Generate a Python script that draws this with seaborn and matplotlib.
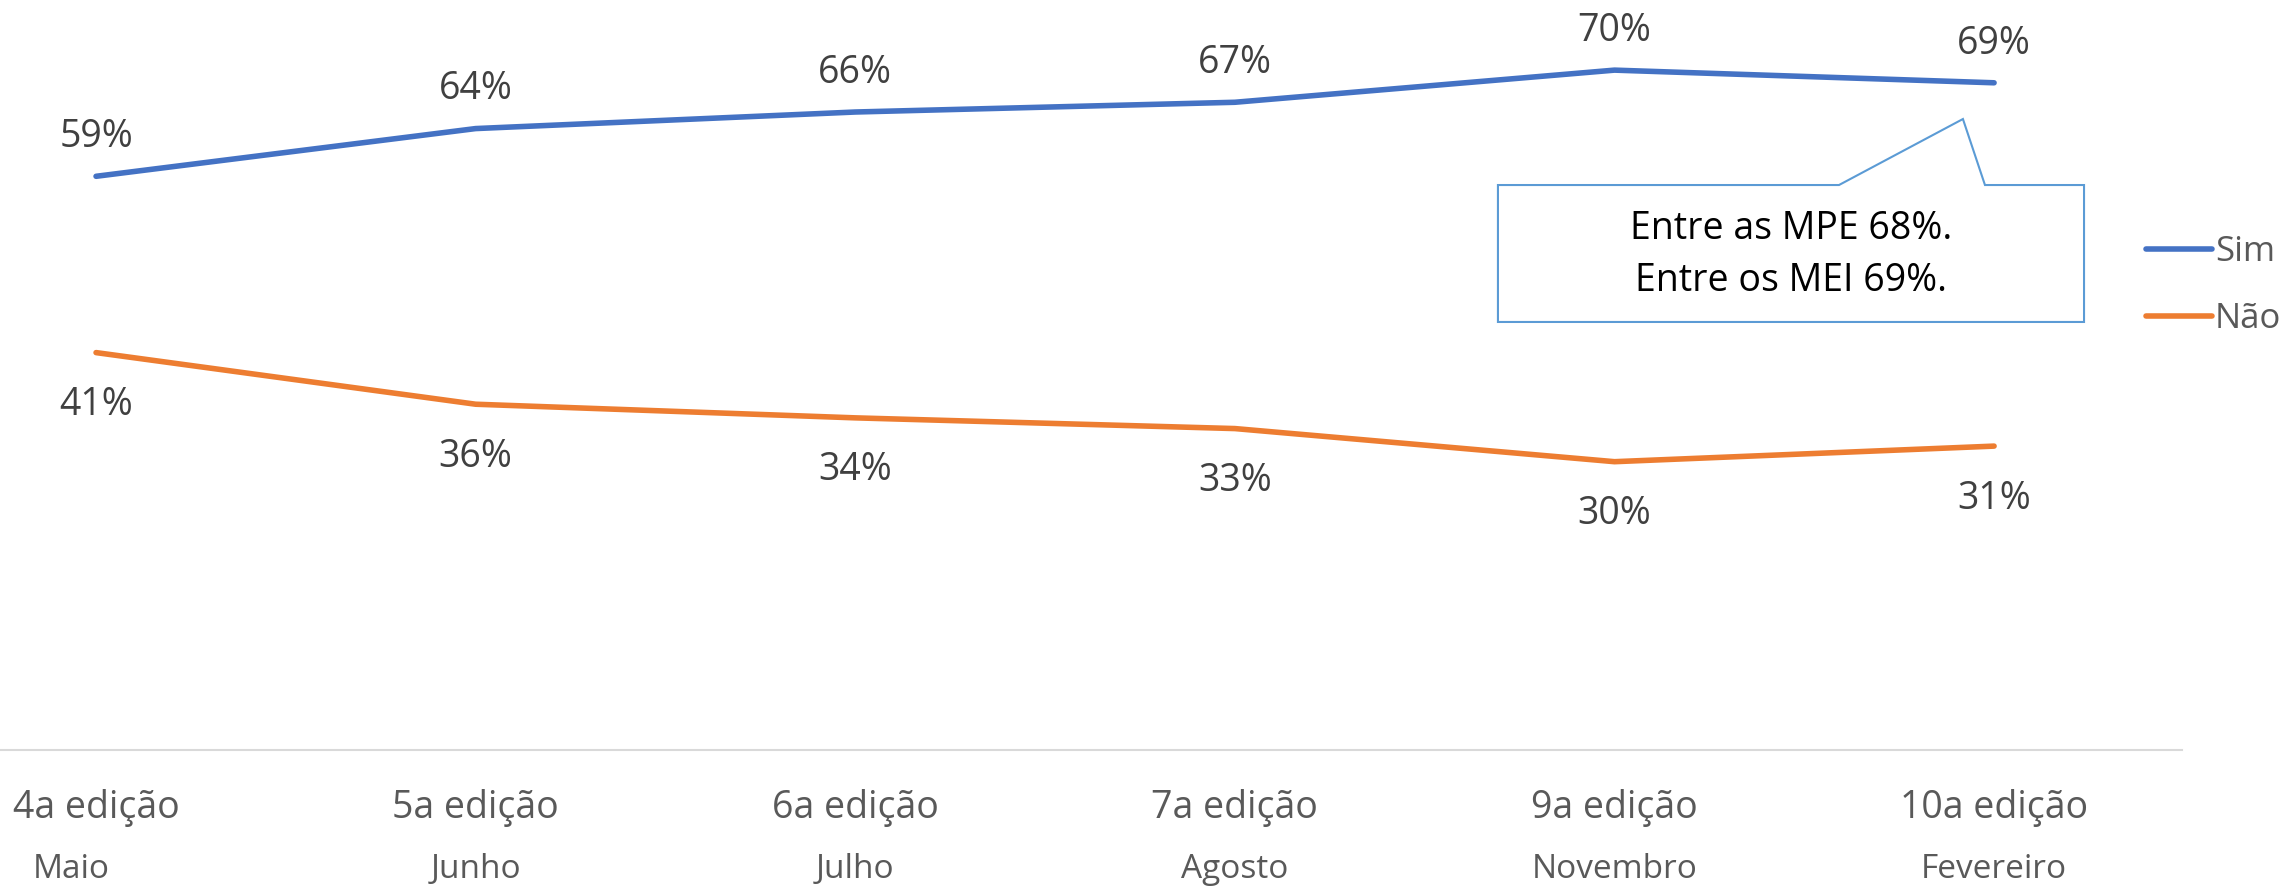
import numpy as np
import pandas as pd
import matplotlib.pyplot as plt
from matplotlib.patches import Polygon
import seaborn as sns

editions = ['4a edição', '5a edição', '6a edição', '7a edição', '9a edição', '10a edição']
months = ['Maio', 'Junho', 'Julho', 'Agosto', 'Novembro', 'Fevereiro']
sim = [58.9, 63.8, 65.5, 66.5, 69.8, 68.5]
nao = [40.8, 35.5, 34.1, 33.0, 29.6, 31.2]
sim_labels = ['59%', '64%', '66%', '67%', '70%', '69%']
nao_labels = ['41%', '36%', '34%', '33%', '30%', '31%']
callout_lines = ['Entre as MPE 68%.', 'Entre os MEI 69%.']

df = pd.DataFrame({
    'edicao': editions * 2,
    'valor': sim + nao,
    'resposta': ['Sim'] * len(sim) + ['Não'] * len(nao),
})

sns.set_theme(style='white')
plt.rcParams['font.family'] = ['Open Sans', 'DejaVu Sans']

fig = plt.figure(figsize=(22.85, 8.88), dpi=100)
ax = fig.add_axes([0, 1 - 750 / 888, 2182 / 2285, 750 / 888])

palette = {'Sim': '#4472C4', 'Não': '#ED7D31'}
sns.lineplot(data=df, x='edicao', y='valor', hue='resposta', palette=palette,
             linewidth=4, sort=False, ax=ax, solid_capstyle='round')

ax.set_ylim(0, 77)
ax.set_xlim(-0.253, 5.495)
for s in ['top', 'right', 'left']:
    ax.spines[s].set_visible(False)
ax.spines['bottom'].set_color('#D9D9D9')
ax.spines['bottom'].set_linewidth(1.5)
ax.set_yticks([])
ax.set_xlabel('')
ax.set_ylabel('')

ax.set_xticks(range(len(editions)))
ax.set_xticklabels(editions, fontsize=27, color='#595959')
ax.tick_params(axis='x', length=0, pad=28)

# month line under each edition (Maio sits a bit to the left in the original)
month_dx = [-18, 0, 0, 0, 0, 0]
for i, (m, dx) in enumerate(zip(months, month_dx)):
    ax.annotate(m, (i, 0), xycoords=('data', 'axes fraction'), xytext=(dx, -92),
                textcoords='offset points', ha='center', va='baseline',
                fontsize=24, color='#595959', annotation_clip=False)

for i, (v, t) in enumerate(zip(sim, sim_labels)):
    ax.annotate(t, (i, v), xytext=(0, 21), textcoords='offset points',
                ha='center', va='baseline', fontsize=27, color='#404040')
for i, (v, t) in enumerate(zip(nao, nao_labels)):
    ax.annotate(t, (i, v), xytext=(0, -45), textcoords='offset points',
                ha='center', va='baseline', fontsize=27, color='#404040')

# callout box (axes fraction)
box = [(0.6865, 0.7533), (0.8428, 0.7533), (0.8996, 0.8413), (0.9097, 0.7533),
       (0.9551, 0.7533), (0.9551, 0.5707), (0.6865, 0.5707)]
ax.add_patch(Polygon(box, closed=True, transform=ax.transAxes, facecolor='white',
                     edgecolor='#5B9BD5', linewidth=1.5, zorder=3, clip_on=False))
ax.text(0.8208, 0.66, '\n'.join(callout_lines), transform=ax.transAxes,
        ha='center', va='center', fontsize=27, color='black', linespacing=1.47, zorder=4)

handles, labels = ax.get_legend_handles_labels()
leg = ax.legend(handles, labels, loc='center left', bbox_to_anchor=(0.939, 0.678),
                bbox_transform=fig.transFigure, frameon=False, fontsize=25,
                handlelength=1.9, handletextpad=0.1, labelspacing=0.95,
                borderpad=0, borderaxespad=0)
for t in leg.get_texts():
    t.set_color('#595959')
for l in leg.get_lines():
    l.set_linewidth(4)
    l.set_solid_capstyle('round')

fig.savefig('out.png', dpi=100)
